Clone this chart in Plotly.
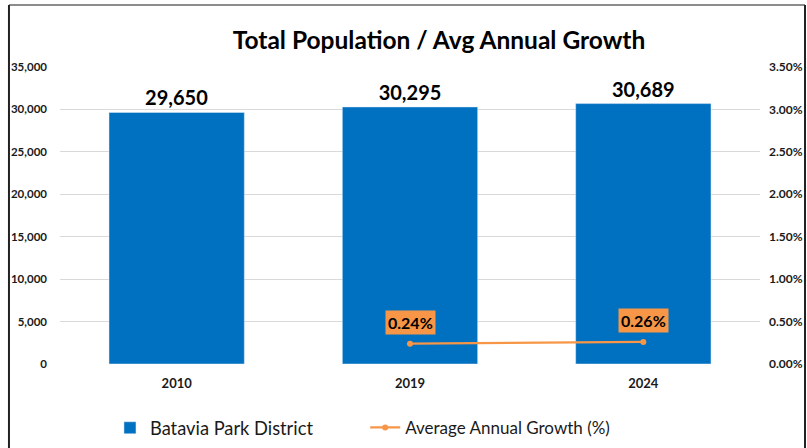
import plotly.graph_objects as go

# Population by census year and average annual growth
years = ["2010", "2019", "2024"]
population = [29650, 30295, 30689]
growth_years = ["2019", "2024"]
growth = [0.0024, 0.0026]
growth_labels = ["0.24%", "0.26%"]

pop_ticks = [0, 5000, 10000, 15000, 20000, 25000, 30000, 35000]
growth_ticks = [0, 0.005, 0.01, 0.015, 0.02, 0.025, 0.03, 0.035]

BLUE = "#0070C0"
ORANGE = "#F79646"
FONT = "Lato"
TXT = "#1a1a1a"

fig = go.Figure()

fig.add_trace(go.Bar(
    x=years, y=population, name="Batavia Park District",
    marker_color=BLUE, width=0.58,
    text=[f"{v:,}" for v in population], textposition="outside",
    textfont=dict(family=FONT, size=20, color="#000000", weight="bold"),
    cliponaxis=False, legend="legend",
))

fig.add_trace(go.Scatter(
    x=growth_years, y=growth, name="Average Annual Growth (%)",
    yaxis="y2", mode="lines+markers",
    line=dict(color=ORANGE, width=2.2),
    marker=dict(color=ORANGE, size=6),
    legend="legend2",
))

# orange callouts above each growth point (category axes take the index)
for xv, yv, lab in zip(growth_years, growth, growth_labels):
    fig.add_annotation(
        x=years.index(xv), y=yv, xref="x", yref="y2", text=f"<b>{lab}</b>",
        showarrow=False, yshift=21, bgcolor=ORANGE, borderpad=2,
        font=dict(family=FONT, size=16, color="#000000"),
    )

# outer frame lines (top, left, right)
frame = dict(xref="paper", yref="paper", type="line")
fig.add_shape(x0=-0.0729, x1=1.0643, y0=1.2088, y1=1.2088,
              line=dict(color="#8c8c8c", width=2), **frame)
fig.add_shape(x0=-0.0729, x1=-0.0729, y0=1.2088, y1=-0.3,
              line=dict(color="#222222", width=2), **frame)
fig.add_shape(x0=1.0643, x1=1.0643, y0=1.2088, y1=-0.3,
              line=dict(color="#222222", width=2), **frame)

legend_style = dict(orientation="h", xanchor="left", y=-0.215, yanchor="middle",
                    itemwidth=30, bgcolor="rgba(0,0,0,0)")

fig.update_layout(
    width=807, height=448,
    margin=dict(l=60, r=47, t=67, b=84, autoexpand=False),
    paper_bgcolor="white", plot_bgcolor="white",
    font=dict(family=FONT, color=TXT),
    title=dict(text="<b>Total Population / Avg Annual Growth</b>",
               x=0.544, xanchor="center", y=0.91, yanchor="middle",
               xref="container", yref="container",
               font=dict(family=FONT, size=24.5, color="#000000")),
    xaxis=dict(type="category", categoryorder="array", categoryarray=years,
               range=[-0.5, 2.5], showgrid=False, showline=False, ticks="",
               ticklabelstandoff=10,
               tickfont=dict(family=FONT, size=13, color=TXT, weight="bold")),
    yaxis=dict(range=[0, 35000], tickvals=pop_ticks, tickformat=",",
               showgrid=True, gridcolor="#D9D9D9", gridwidth=1,
               zeroline=False, showline=False, ticks="", ticklabelstandoff=12,
               tickfont=dict(family=FONT, size=11.5, color=TXT, weight="bold")),
    yaxis2=dict(range=[0, 0.035], tickvals=growth_ticks, tickformat=".2%",
                overlaying="y", side="right", showgrid=False,
                zeroline=False, showline=False, ticks="", ticklabelstandoff=8,
                tickfont=dict(family=FONT, size=12, color=TXT, weight="bold")),
    showlegend=True,
    legend=dict(x=0.0714, font=dict(family=FONT, size=18.3, color=TXT),
                **legend_style),
    legend2=dict(x=0.436, font=dict(family=FONT, size=17, color=TXT),
                 **legend_style),
)

fig.write_html("out.html")
